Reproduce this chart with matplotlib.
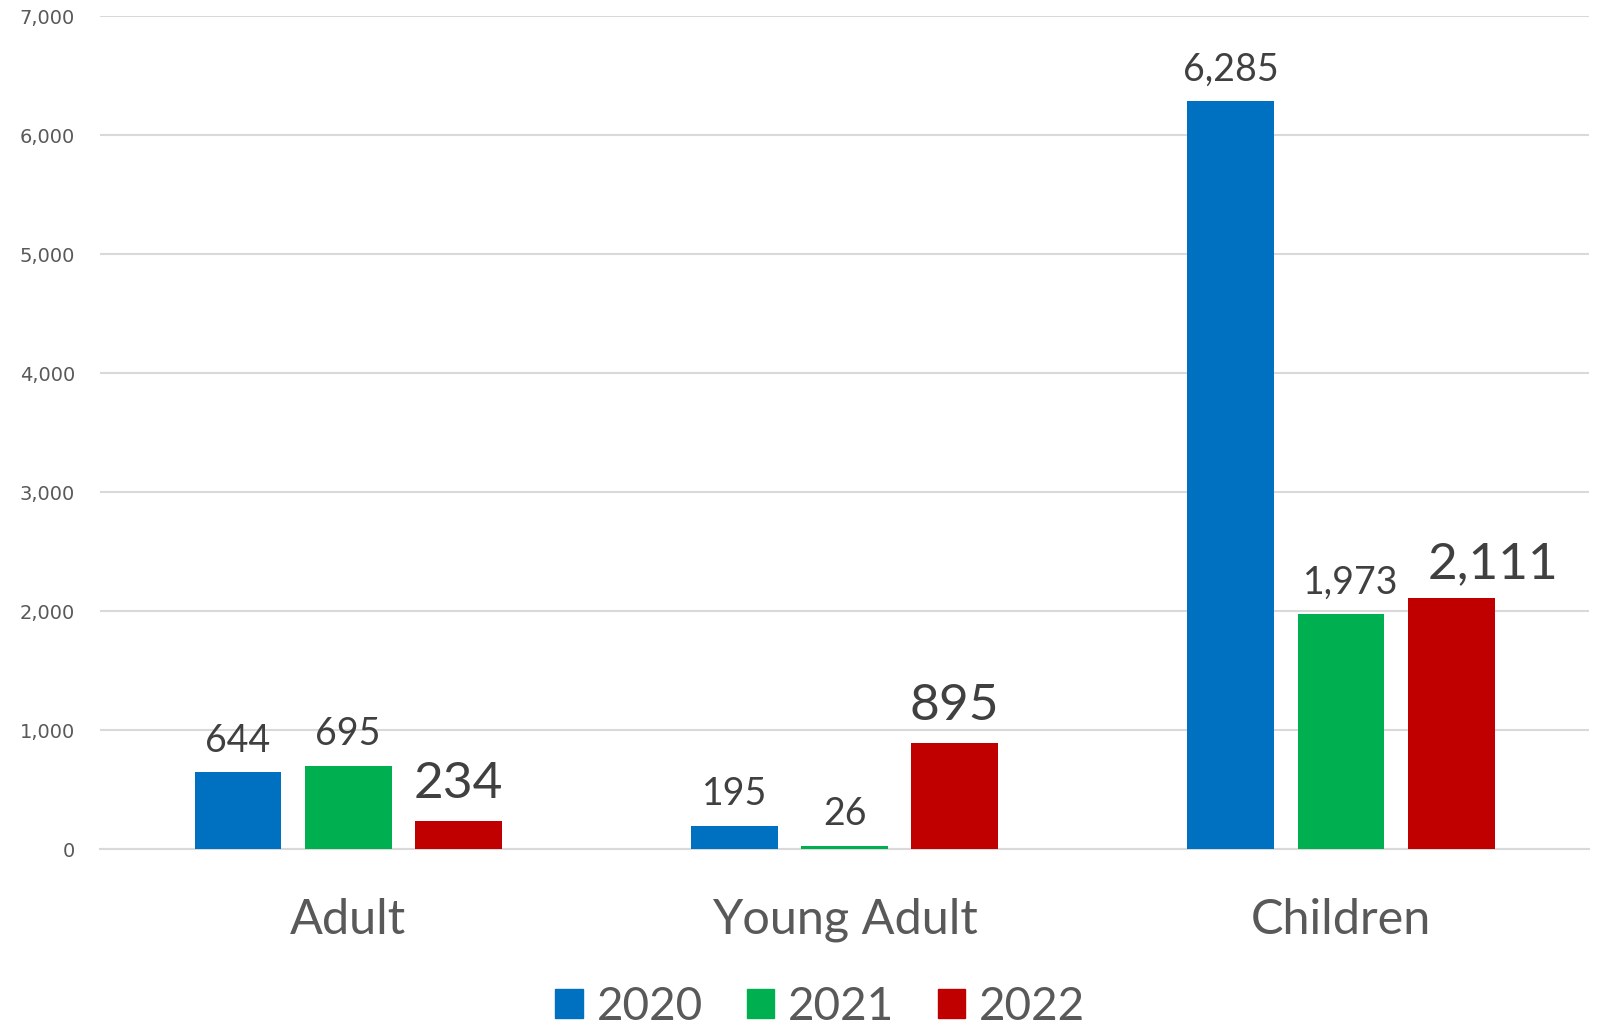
import numpy as np
import matplotlib.pyplot as plt
from matplotlib.patches import Patch
from matplotlib.ticker import FuncFormatter

categories = ["Adult", "Young Adult", "Children"]
years = ["2020", "2021", "2022"]
values_2020 = [644, 195, 6285]
values_2021 = [695, 26, 1973]
values_2022 = [234, 895, 2111]

colors = ["#0070C0", "#00B050", "#C00000"]
label_sizes = [27, 27, 37]

plt.rcParams['font.family'] = ['Lato', 'DejaVu Sans']

fig = plt.figure(figsize=(16.02, 10.26), dpi=100)
ax = fig.add_axes([0.0624, 0.1725, 0.9296, 0.8115])

x = np.arange(len(categories))
width = 0.175
step = 0.222
series = [values_2020, values_2021, values_2022]

labels = []
for i, vals in enumerate(series):
    bars = ax.bar(x + (i - 1) * step, vals, width, color=colors[i], zorder=3)
    labels.append(ax.bar_label(bars, labels=[f"{v:,}" for v in vals], padding=10,
                               fontsize=label_sizes[i], color="#404040"))

# nudge the crowded labels over the Children bars
labels[1][2].xyann = (7, 10)
labels[2][2].xyann = (30, 8)

ax.set_xlim(-0.5, 2.5)
ax.set_ylim(0, 7000)
ax.set_yticks(range(0, 7001, 1000))
ax.yaxis.set_major_formatter(FuncFormatter(lambda v, p: f"{int(v):,}"))
ax.grid(axis="y", color="#D9D9D9", linewidth=1.5, zorder=0)
ax.set_axisbelow(True)

for s in ["top", "right", "left"]:
    ax.spines[s].set_visible(False)
ax.spines["bottom"].set_color("#D9D9D9")
ax.spines["bottom"].set_linewidth(1.5)

ax.set_xticks(x)
ax.set_xticklabels(categories)
ax.tick_params(axis="x", length=0, pad=35, labelsize=35, labelcolor="#595959")
ax.tick_params(axis="y", length=0, pad=18, labelsize=14, labelcolor="#595959")
for t in ax.get_yticklabels():
    t.set_family(["DejaVu Sans"])

handles = [Patch(color=c, label=y) for c, y in zip(colors, years)]
fig.legend(handles=handles, loc="lower center", bbox_to_anchor=(0.512, -0.042),
           ncol=3, frameon=False, fontsize=33, labelcolor="#595959",
           handlelength=0.6, handleheight=0.6, handletextpad=0.3,
           columnspacing=0.95)

fig.savefig("out.png", dpi=100)
